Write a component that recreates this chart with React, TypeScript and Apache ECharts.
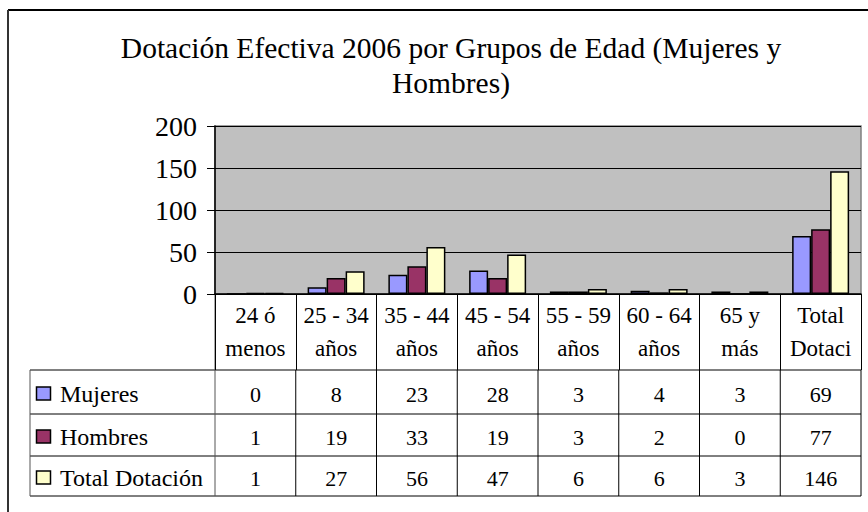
import React, { useEffect, useRef } from "react";
import * as echarts from "echarts";

const categories = ["24 ó\nmenos", "25 - 34\naños", "35 - 44\naños", "45 - 54\naños", "55 - 59\naños", "60 - 64\naños", "65 y\nmás", "Total\nDotaci"];
const seriesNames = ["Mujeres", "Hombres", "Total Dotación"];
const mujeres = [0, 8, 23, 28, 3, 4, 3, 69];
const hombres = [1, 19, 33, 19, 3, 2, 0, 77];
const totalDotacion = [1, 27, 56, 47, 6, 6, 3, 146];
const yTicks = [0, 50, 100, 150, 200];
const colors = ["#9999FF", "#993366", "#FFFFCC"];
const titleText = "Dotación Efectiva 2006 por Grupos de Edad (Mujeres y\nHombres)";

const FONT = "Liberation Serif";

export default function App() {
  const ref = useRef<HTMLDivElement>(null);
  useEffect(() => {
    if (!ref.current) return;
    const chart = echarts.init(ref.current, null, { renderer: "svg" });
    const W = 868, H = 512;
    const gridLeft = 215, gridRight = 861, gridTop = 126, axisY = 294;
    const n = categories.length;
    const colW = (gridRight - gridLeft) / n;
    const rowLines = [370, 414, 456, 496];
    const tableLeft = 30;
    const rows = [mujeres, hombres, totalDotacion];

    const graphics: any[] = [];
    graphics.push({ type: "line", shape: { x1: 8, y1: 10, x2: W, y2: 10 }, style: { stroke: "#000", lineWidth: 2 } });
    graphics.push({ type: "line", shape: { x1: 8, y1: 10, x2: 8, y2: H }, style: { stroke: "#333", lineWidth: 2 } });
    graphics.push({
      type: "text",
      x: 451,
      y: 30,
      style: { text: titleText, fontFamily: FONT, fontSize: 29.5, lineHeight: 35, align: "center", verticalAlign: "top", fill: "#000" },
    });
    rowLines.forEach((y) => {
      graphics.push({ type: "line", shape: { x1: tableLeft, y1: y, x2: gridRight, y2: y }, style: { stroke: "#000", lineWidth: 1 } });
    });
    graphics.push({ type: "line", shape: { x1: tableLeft, y1: rowLines[0], x2: tableLeft, y2: rowLines[3] }, style: { stroke: "#555", lineWidth: 1 } });
    graphics.push({ type: "line", shape: { x1: gridLeft, y1: axisY, x2: gridLeft, y2: rowLines[3] }, style: { stroke: "#555", lineWidth: 1 } });
    for (let i = 1; i <= n; i++) {
      const x = gridLeft + i * colW;
      graphics.push({ type: "line", shape: { x1: x, y1: rowLines[0], x2: x, y2: rowLines[3] }, style: { stroke: "#000", lineWidth: 1 } });
    }
    rows.forEach((vals, r) => {
      const cy = (rowLines[r] + rowLines[r + 1]) / 2 + 2;
      graphics.push({ type: "rect", shape: { x: 36.5, y: cy - 7, width: 14, height: 13 }, style: { fill: colors[r], stroke: "#000", lineWidth: 1.5 } });
      graphics.push({ type: "text", x: 60, y: cy, style: { text: seriesNames[r], fontFamily: FONT, fontSize: 24, align: "left", verticalAlign: "middle", fill: "#000" } });
      vals.forEach((v, i) => {
        graphics.push({ type: "text", x: gridLeft + (i + 0.5) * colW, y: cy, style: { text: String(v), fontFamily: FONT, fontSize: 22, align: "center", verticalAlign: "middle", fill: "#000" } });
      });
    });

    const seriesData = [mujeres, hombres, totalDotacion];
    chart.setOption({
      animation: false,
      backgroundColor: "#fff",
      textStyle: { fontFamily: FONT },
      grid: {
        left: gridLeft,
        right: W - gridRight,
        top: gridTop,
        bottom: H - axisY,
        show: true,
        backgroundColor: "#c0c0c0",
        borderColor: "#808080",
        borderWidth: 1.5,
      },
      xAxis: {
        type: "category",
        data: categories,
        boundaryGap: true,
        axisLine: { show: true, lineStyle: { color: "#000", width: 1.5 } },
        axisTick: { show: true, length: 76, alignWithLabel: false, lineStyle: { color: "#000", width: 1 } },
        axisLabel: { interval: 0, fontFamily: FONT, fontSize: 23, lineHeight: 33, color: "#000", margin: 5 },
      },
      yAxis: {
        type: "value",
        min: yTicks[0],
        max: yTicks[yTicks.length - 1],
        interval: 50,
        axisLine: { show: true, lineStyle: { color: "#000", width: 1.5 } },
        axisTick: { show: true, length: 8, lineStyle: { color: "#000" } },
        axisLabel: { fontFamily: FONT, fontSize: 28, color: "#000", margin: 18 },
        splitLine: { show: true, lineStyle: { color: "#000", width: 1 } },
      },
      series: seriesNames.map((name, i) => ({
        type: "bar",
        name,
        data: seriesData[i],
        barWidth: 19,
        barGap: "0%",
        itemStyle: { color: colors[i], borderColor: "#000", borderWidth: 1.5 },
      })),
      graphic: graphics,
    });
    return () => chart.dispose();
  }, []);
  return <div ref={ref} style={{ position: "fixed", left: 0, top: 0, width: 868, height: 512 }} />;
}
